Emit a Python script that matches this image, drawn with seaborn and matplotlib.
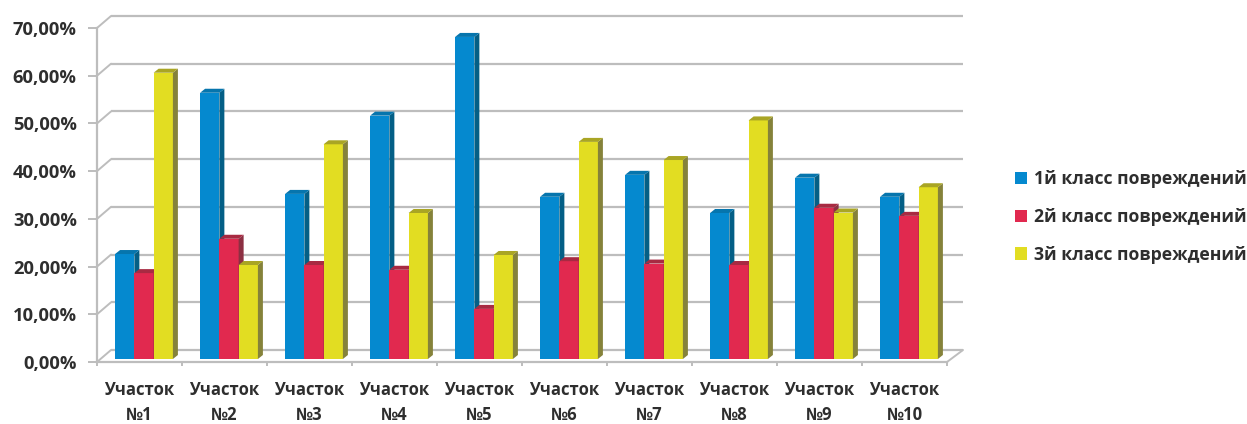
import pandas as pd
import matplotlib
matplotlib.use("Agg")
import matplotlib.pyplot as plt
import matplotlib.transforms as mtransforms
from matplotlib.patches import Polygon
from matplotlib.ticker import FuncFormatter, FixedLocator
import seaborn as sns

# данные
uchastki = ["Участок\n№1", "Участок\n№2", "Участок\n№3", "Участок\n№4", "Участок\n№5",
            "Участок\n№6", "Участок\n№7", "Участок\n№8", "Участок\n№9", "Участок\n№10"]
klass_1 = [22.0, 55.8, 34.6, 51.0, 67.5, 34.0, 38.6, 30.6, 38.0, 34.0]
klass_2 = [18.0, 25.2, 19.7, 18.7, 10.5, 20.5, 20.0, 19.7, 31.7, 30.0]
klass_3 = [60.0, 19.7, 45.0, 30.6, 21.8, 45.5, 41.7, 50.0, 30.7, 36.0]
nazvaniya = ["1й класс повреждений", "2й класс повреждений", "3й класс повреждений"]
y_ticks = [0, 10, 20, 30, 40, 50, 60, 70]

cvet = {nazvaniya[0]: "#0589cf", nazvaniya[1]: "#e1294f", nazvaniya[2]: "#e2dd22"}
bok = ["#045f86", "#8c2f42", "#85823a"]
verh = ["#0675ad", "#a82a42", "#a9a524"]

W, H = 1247, 424
df = pd.DataFrame({"uchastok": uchastki * 3,
                   "klass": sum([[n] * len(uchastki) for n in nazvaniya], []),
                   "znachenie": klass_1 + klass_2 + klass_3})

sns.set_theme(style="white")
plt.rcParams["font.family"] = ["Open Sans", "DejaVu Sans"]
fig = plt.figure(figsize=(W / 100, H / 100), dpi=100)
# передняя рамка оси: x 97..947, y 28..362 в пикселях
ax = fig.add_axes([97 / W, (H - 362) / H, 850 / W, 334 / H])

sns.barplot(data=df, x="uchastok", y="znachenie", hue="klass", palette=cvet,
            width=0.68, gap=0, saturation=1, ax=ax, edgecolor="none", linewidth=0)
ax.set_xlim(-0.5, 9.5)
ax.set_ylim(0, 70)
ax.set_xlabel("")
ax.set_ylabel("")

seryy = "#bdbdbd"
tekst = "#2e2e2e"

# задняя стенка: линии сетки сдвинуты вправо и вверх
sdvig = mtransforms.offset_copy(ax.transData, fig=fig, x=14, y=12, units="dots")
ax.hlines(y_ticks, -0.5, 9.52, transform=sdvig, color=seryy, linewidth=1.6, zorder=1, clip_on=False)

# косые линии от передней оси к стенке
for val in y_ticks:
    x0, y0 = ax.transData.transform((-0.5, val))
    ax.plot([x0, x0 + 14], [y0, y0 + 12], transform=mtransforms.IdentityTransform(),
            color=seryy, linewidth=1.4, zorder=1, clip_on=False)
x0, y0 = ax.transData.transform((9.5, 0))
ax.plot([x0, x0 + 16], [y0, y0 + 12], transform=mtransforms.IdentityTransform(),
        color=seryy, linewidth=1.4, zorder=1, clip_on=False)

# псевдо-3D: столбики чуть смещены, боковая и верхняя грани считаются от самих столбиков
stolbik = mtransforms.offset_copy(ax.transData, fig=fig, x=4.5, y=3, units="dots")
gl_x, gl_y = 5, 4
for i, cont in enumerate(ax.containers):
    for bar in cont:
        bar.set_transform(stolbik)
        bar.set_clip_on(False)
        bar.set_zorder(3 + i)
        (x1, y1), (x2, y2) = stolbik.transform([(bar.get_x(), 0),
                                                (bar.get_x() + bar.get_width(), bar.get_height())])
        ax.add_patch(Polygon([(x2, y1), (x2 + gl_x, y1 + gl_y), (x2 + gl_x, y2 + gl_y), (x2, y2)],
                             closed=True, facecolor=bok[i], edgecolor="none",
                             transform=mtransforms.IdentityTransform(), zorder=3 + i, clip_on=False))
        ax.add_patch(Polygon([(x1, y2), (x1 + gl_x, y2 + gl_y), (x2 + gl_x, y2 + gl_y), (x2, y2)],
                             closed=True, facecolor=verh[i], edgecolor="none",
                             transform=mtransforms.IdentityTransform(), zorder=3 + i, clip_on=False))

for s in ["top", "right"]:
    ax.spines[s].set_visible(False)
for s in ["left", "bottom"]:
    ax.spines[s].set_color(seryy)
    ax.spines[s].set_linewidth(1.6)
    ax.spines[s].set_zorder(2)

ax.yaxis.set_major_locator(FixedLocator(y_ticks))
ax.yaxis.set_major_formatter(FuncFormatter(lambda v, p: f"{v:.2f}%".replace(".", ",")))
ax.tick_params(axis="y", length=6.5, width=1.4, color=seryy, left=True, pad=8,
               labelsize=13.2, labelcolor=tekst)
ax.tick_params(axis="x", which="major", length=0, pad=14, labelsize=12, labelcolor=tekst)
ax.xaxis.set_minor_locator(FixedLocator([i - 0.5 for i in range(11)]))
ax.tick_params(axis="x", which="minor", length=3, width=1.4, color=seryy, bottom=True)
for t in ax.get_yticklabels():
    t.set_fontweight("bold")
for t in ax.get_xticklabels():
    t.set_fontweight("bold")
    t.set_linespacing(1.45)

h, l = ax.get_legend_handles_labels()
ax.legend(h, l, loc="center left", bbox_to_anchor=(1015 / W, (H - 217) / H),
          bbox_transform=fig.transFigure, frameon=False, ncol=1,
          prop={"size": 12.7, "weight": "bold"}, labelcolor=tekst,
          handlelength=0.7, handleheight=0.7, handletextpad=0.35, labelspacing=1.12,
          borderpad=0, borderaxespad=0)

fig.savefig("out.png", dpi=100)
plt.close(fig)
